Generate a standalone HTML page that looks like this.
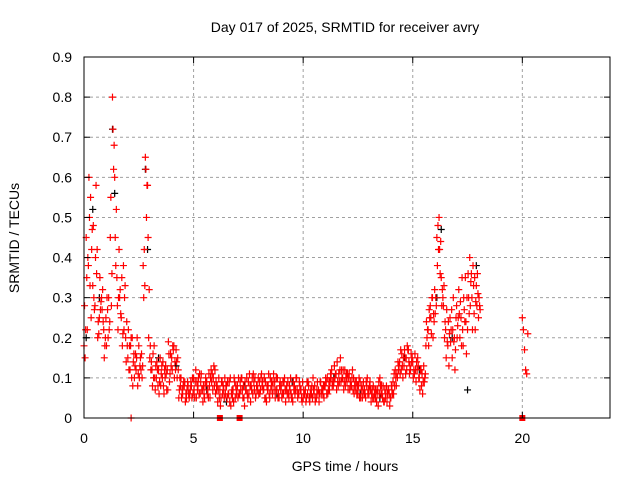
<!DOCTYPE html>
<html><head><meta charset="utf-8"><style>
body{margin:0;background:#fff;}
svg{display:block;font-family:"Liberation Sans",sans-serif;}
</style></head><body>
<svg id="chart" width="640" height="480" viewBox="0 0 640 480">
<rect width="640" height="480" fill="#fff"/>
<text x="345" y="32" font-size="14" text-anchor="middle">Day 017 of 2025, SRMTID for receiver avry</text>
<text x="345" y="471" font-size="14" text-anchor="middle">GPS time / hours</text>
<text x="19" y="238" font-size="14" text-anchor="middle" transform="rotate(-90 19 238)">SRMTID / TECUs</text>
<g id="grid"></g><g id="blk"></g><g id="red"></g>
<rect x="84" y="57" width="526" height="361" fill="none" stroke="#000" stroke-width="1"/>
<g id="ticks"></g>
</svg>
<script>
const xTicks=[0,5,10,15,20];
const yTicks=[0,0.1,0.2,0.3,0.4,0.5,0.6,0.7,0.8,0.9];
const yTickLabels=["0","0.1","0.2","0.3","0.4","0.5","0.6","0.7","0.8","0.9"];
const srmtidA=[0.18,0.45,0.38,0.55,0.33,0.28,0.42,0.25,0.30,0.22,
0.25,0.20,0.45,0.80,0.60,0.35,0.42,0.25,0.38,0.20,
0.15,0.12,0.20,0.10,0.15,0.18,0.12,0.38,0.65,0.58,
0.15,0.12,0.18,0.10,0.12,0.08,0.14,0.10,0.12,0.09,
0.15,0.18,0.17,0.12,0.08,0.06,0.09,0.07,0.05,0.08,
0.10,0.12,0.08,0.06,0.07,0.05,0.09,0.11,0.12,0.10,
0.06,0.04,0.07,0.09,0.05,0.08,0.06,0.03,0.07,0.05,
0.08,0.06,0.10,0.05,0.07,0.09,0.04,0.06,0.10,0.08,
0.09,0.11,0.07,0.05,0.08,0.10,0.06,0.09,0.07,0.05,
0.08,0.06,0.04,0.09,0.07,0.05,0.08,0.10,0.06,0.07,
0.05,0.07,0.06,0.04,0.08,0.06,0.05,0.07,0.09,0.06,
0.08,0.10,0.07,0.12,0.09,0.11,0.08,0.15,0.10,0.12,
0.09,0.11,0.08,0.10,0.07,0.06,0.09,0.05,0.07,0.08,
0.06,0.04,0.08,0.05,0.07,0.10,0.06,0.04,0.08,0.07,
0.05,0.09,0.12,0.10,0.14,0.16,0.13,0.15,0.17,0.12,
0.14,0.16,0.12,0.10,0.08,0.13,0.18,0.22,0.28,0.30,
0.32,0.45,0.50,0.35,0.28,0.22,0.18,0.25,0.15,0.20,
0.28,0.32,0.25,0.18,0.35,0.22,0.40,0.30,0.26,0.33,0.25];
const srmtidB=[0.28,0.35,0.60,0.25,0.48,0.40,0.20,0.35,0.27,0.15,
0.18,0.30,0.55,0.72,0.45,0.28,0.30,0.35,0.22,0.14,
0.22,0.18,0.08,0.13,0.20,0.10,0.16,0.30,0.62,0.45,
0.18,0.08,0.10,0.14,0.06,0.11,0.08,0.13,0.07,0.11,
0.12,0.10,0.14,0.05,0.10,0.08,0.04,0.09,0.06,0.05,
0.07,0.05,0.10,0.09,0.04,0.08,0.06,0.08,0.09,0.13,
0.09,0.07,0.03,0.06,0.10,0.05,0.09,0.06,0.04,0.08,
0.05,0.09,0.07,0.03,0.10,0.06,0.08,0.11,0.05,0.07,
0.06,0.08,0.10,0.04,0.11,0.07,0.09,0.05,0.10,0.08,
0.05,0.09,0.07,0.06,0.10,0.04,0.06,0.07,0.09,0.05,
0.07,0.04,0.09,0.06,0.05,0.08,0.07,0.04,0.06,0.08,
0.10,0.06,0.09,0.08,0.13,0.07,0.11,0.09,0.12,0.08,
0.11,0.07,0.10,0.06,0.09,0.08,0.05,0.07,0.06,0.10,
0.08,0.06,0.05,0.07,0.03,0.08,0.05,0.07,0.04,0.06,
0.08,0.06,0.10,0.14,0.11,0.13,0.17,0.12,0.14,0.16,
0.10,0.12,0.15,0.07,0.11,0.09,0.24,0.18,0.25,0.20,
0.26,0.38,0.42,0.28,0.33,0.15,0.24,0.19,0.22,0.12,
0.20,0.26,0.18,0.30,0.24,0.36,0.28,0.22,0.35,0.28,0.30];
const srmtidC=[0.15,0.22,0.50,0.42,0.30,0.58,0.24,0.27,0.32,0.18,
0.30,0.22,0.28,0.62,0.38,0.22,0.32,0.18,0.30,0.24,
0.12,0.20,0.14,0.16,0.08,0.13,0.10,0.42,0.50,0.20,
0.12,0.16,0.07,0.12,0.09,0.13,0.06,0.11,0.19,0.16,
0.18,0.14,0.10,0.07,0.05,0.09,0.06,0.08,0.07,0.10,
0.05,0.09,0.06,0.11,0.08,0.10,0.07,0.05,0.11,0.08,
0.07,0.10,0.05,0.08,0.06,0.09,0.04,0.07,0.10,0.06,
0.10,0.07,0.05,0.09,0.06,0.11,0.07,0.09,0.06,0.10,
0.07,0.09,0.05,0.08,0.06,0.09,0.11,0.07,0.05,0.09,
0.06,0.10,0.08,0.05,0.06,0.09,0.07,0.05,0.08,0.04,
0.06,0.05,0.08,0.07,0.10,0.04,0.09,0.06,0.07,0.05,
0.09,0.07,0.11,0.09,0.10,0.14,0.09,0.12,0.07,0.10,
0.07,0.09,0.12,0.08,0.06,0.10,0.07,0.09,0.05,0.06,
0.09,0.07,0.06,0.04,0.09,0.06,0.08,0.05,0.06,0.03,
0.07,0.11,0.08,0.12,0.17,0.10,0.15,0.18,0.11,0.14,
0.12,0.09,0.13,0.12,0.06,0.10,0.20,0.27,0.21,0.26,
0.30,0.48,0.36,0.32,0.20,0.27,0.13,0.22,0.30,0.17,
0.23,0.20,0.35,0.27,0.16,0.30,0.34,0.38,0.22,0.36,0.28];
const srmtidD=[0.22,0.40,0.33,0.47,0.27,0.36,0.21,0.29,0.24,0.20,
0.27,0.24,0.36,0.68,0.52,0.30,0.26,0.21,0.33,0.18,
0.18,0.10,0.16,0.12,0.11,0.15,0.13,0.33,0.58,0.32,
0.14,0.10,0.13,0.08,0.15,0.10,0.12,0.07,0.16,0.13,
0.17,0.12,0.15,0.10,0.07,0.08,0.05,0.06,0.09,0.06,
0.09,0.07,0.11,0.07,0.06,0.09,0.05,0.10,0.07,0.12,
0.08,0.05,0.09,0.07,0.08,0.06,0.10,0.05,0.09,0.07,
0.06,0.10,0.08,0.07,0.05,0.08,0.10,0.07,0.08,0.06,
0.10,0.07,0.09,0.07,0.05,0.08,0.07,0.10,0.06,0.07,
0.09,0.07,0.06,0.08,0.05,0.07,0.10,0.06,0.07,0.09,
0.06,0.09,0.05,0.06,0.07,0.05,0.06,0.09,0.07,0.08,
0.06,0.09,0.10,0.08,0.11,0.09,0.12,0.10,0.09,0.11,
0.10,0.08,0.07,0.09,0.08,0.05,0.08,0.06,0.09,0.07,
0.07,0.05,0.07,0.06,0.06,0.08,0.04,0.06,0.07,0.05,
0.06,0.08,0.11,0.13,0.12,0.15,0.11,0.17,0.13,0.15,
0.11,0.14,0.10,0.12,0.09,0.11,0.22,0.25,0.30,0.24,
0.28,0.42,0.44,0.30,0.24,0.19,0.21,0.27,0.19,0.25,
0.25,0.29,0.22,0.24,0.30,0.26,0.36,0.33,0.29,0.31,0.27];
const lateTimes=[20.0,20.05,20.1,20.15,20.2,20.25];
const lateVals=[0.25,0.22,0.17,0.12,0.11,0.21];
const zeroTimes=[6.2,7.1,20.0];
const zeroPlusTimes=[2.15];
const blackTimes=[0.1,0.4,0.7,1.3,1.4,2.8,2.9,3.4,4.2,5.6,6.5,7.3,8.8,9.5,10.3,11.4,12.6,13.5,14.6,15.3,16.1,16.3,16.8,17.5,17.9];
const blackVals=[0.20,0.52,0.30,0.72,0.56,0.62,0.42,0.15,0.13,0.07,0.04,0.08,0.06,0.09,0.05,0.10,0.06,0.05,0.15,0.12,0.30,0.47,0.20,0.07,0.38];

const X=h=>84+h*(526/24);
const Y=v=>418-v*(361/0.9);
const NS="http://www.w3.org/2000/svg";
const grid=document.getElementById('grid'),ticks=document.getElementById('ticks');
function mk(tag,attrs,parent){const e=document.createElementNS(NS,tag);for(const k in attrs)e.setAttribute(k,attrs[k]);parent.appendChild(e);return e;}
xTicks.forEach(t=>{
  const x=X(t);
  if(t>0){const g=mk('line',{x1:x,y1:57,x2:x,y2:418,stroke:'#a0a0a0','stroke-dasharray':'3,3'},grid);
  
  }
  mk('line',{x1:x,y1:418,x2:x,y2:412,stroke:'#000'},ticks);
  mk('line',{x1:x,y1:57,x2:x,y2:63,stroke:'#000'},ticks);
  const l=mk('text',{x:x,y:443,'font-size':14,'text-anchor':'middle'},ticks);l.textContent=t;
  
  
});
yTicks.forEach((t,i)=>{
  const y=Y(t);
  if(t>0&&t<0.9){const g=mk('line',{x1:84,y1:y,x2:610,y2:y,stroke:'#a0a0a0','stroke-dasharray':'3,3'},grid);
  
  }
  mk('line',{x1:84,y1:y,x2:90,y2:y,stroke:'#000'},ticks);
  mk('line',{x1:610,y1:y,x2:604,y2:y,stroke:'#000'},ticks);
  const l=mk('text',{x:72,y:y+5,'font-size':14,'text-anchor':'end'},ticks);l.textContent=yTickLabels[i];
  
  
});
function plus(h,v,color,parent,name){
  const x=X(h),y=Y(v);
  const p=mk('path',{d:`M${x-3.5},${y}h7M${x},${y-3.5}v7`,stroke:color,'stroke-width':1.2,fill:'none'},parent);
  
  
}
const blk=document.getElementById('blk'),red=document.getElementById('red');
blackTimes.forEach((h,i)=>plus(h,blackVals[i],'#000',blk,'black-point'));
[srmtidA,srmtidB,srmtidC,srmtidD].forEach((arr,k)=>arr.forEach((v,i)=>plus(i*0.1+k*0.025,v,'#f00',red,'red-point')));
lateTimes.forEach((h,i)=>plus(h,lateVals[i],'#f00',red,'red-point'));
zeroPlusTimes.forEach(h=>plus(h,0,'#f00',red,'red-point'));
zeroTimes.forEach(h=>{const r=mk('rect',{x:X(h)-3,y:415,width:6,height:6,fill:'#f00'},red);

});
</script>
</body></html>
